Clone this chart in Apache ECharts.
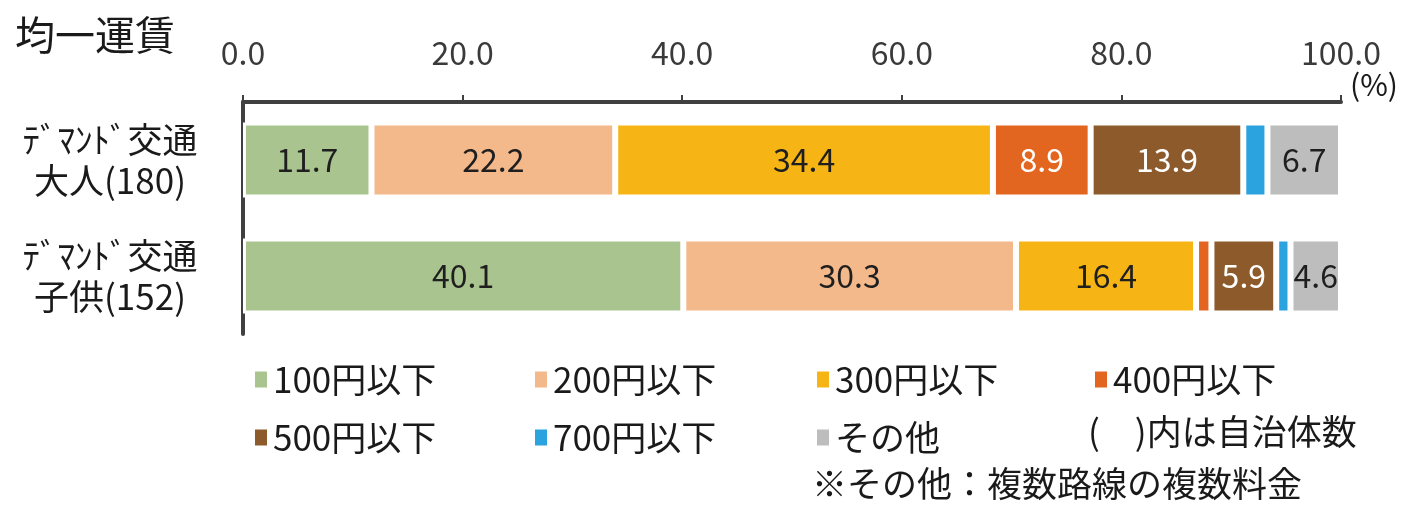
<!DOCTYPE html>
<html>
<head>
<meta charset="utf-8">
<script src="https://cdn.jsdelivr.net/npm/echarts@6/dist/echarts.min.js"></script>
<style>html,body{margin:0;padding:0;background:#fff;}#c{width:1408px;height:505px;}</style>
</head>
<body>
<div id="c"></div>
<script>
const categories = ['ﾃﾞﾏﾝﾄﾞ交通\n大人(180)', 'ﾃﾞﾏﾝﾄﾞ交通\n子供(152)'];
const seriesNames = ['100円以下', '200円以下', '300円以下', '400円以下', '500円以下', '700円以下', 'その他'];
const s100 = [11.7, 40.1];
const s200 = [22.2, 30.3];
const s300 = [34.4, 16.4];
const s400 = [8.9, 1.4];
const s500 = [13.9, 5.9];
const s700 = [2.2, 1.3];
const sOther = [6.7, 4.6];
const xTicks = [0, 20, 40, 60, 80, 100];

const values = [s100, s200, s300, s400, s500, s700, sOther];
const colors = ['#a9c48e', '#f4b98b', '#f6b514', '#e2661f', '#8d5a2b', '#2aa3df', '#bdbdbd'];
const labelColors = ['#1f1f1f', '#1f1f1f', '#1f1f1f', '#ffffff', '#ffffff', '#1f1f1f', '#1f1f1f'];
const FONT = '"Noto Sans CJK JP", "Noto Sans", sans-serif';

const chart = echarts.init(document.getElementById('c'));

const series = seriesNames.map((name, i) => ({
  name: name,
  type: 'bar',
  stack: 'total',
  barWidth: 75,
  data: values[i],
  itemStyle: { color: colors[i], borderColor: '#ffffff', borderWidth: 3 },
  label: {
    show: true,
    position: 'inside',
    fontFamily: FONT,
    fontSize: 32,
    color: labelColors[i],
    formatter: p => (p.value < 3 ? '' : p.value.toFixed(1))
  },
  emphasis: { disabled: true }
}));

const legendPos = [
  { left: 248, top: 357 }, { left: 528, top: 357 }, { left: 810, top: 357 }, { left: 1088, top: 357 },
  { left: 248, top: 415 }, { left: 528, top: 415 }, { left: 810, top: 415 }
];
const legends = seriesNames.map((name, i) => ({
  data: [name],
  left: legendPos[i].left,
  top: legendPos[i].top,
  itemWidth: 14,
  itemHeight: 18,
  itemGap: 0,
  selectedMode: false,
  icon: 'rect',
  textStyle: { fontFamily: FONT, fontSize: 35, color: '#1a1a1a' }
}));

chart.setOption({
  animation: false,
  title: {
    text: '均一運賃',
    left: 10,
    top: 10,
    textStyle: { fontFamily: FONT, fontSize: 40, fontWeight: 'normal', color: '#1a1a1a' }
  },
  legend: legends,
  grid: { left: 243, right: 67, top: 102, height: 232, containLabel: false },
  xAxis: {
    type: 'value',
    position: 'top',
    min: 0,
    max: 100,
    interval: 20,
    axisLine: { show: true, lineStyle: { color: '#404040', width: 4 } },
    axisTick: { show: true, inside: false, length: 7, lineStyle: { color: '#404040', width: 2 } },
    splitLine: { show: false },
    axisLabel: {
      margin: 33,
      fontFamily: FONT,
      fontSize: 32,
      color: '#3a3a3a',
      formatter: v => (xTicks.indexOf(v) >= 0 ? v.toFixed(1) : '')
    }
  },
  yAxis: {
    type: 'category',
    inverse: true,
    data: categories,
    axisLine: { show: true, lineStyle: { color: '#404040', width: 4 } },
    axisTick: { show: false },
    axisLabel: {
      align: 'center',
      margin: 133,
      fontFamily: FONT,
      fontSize: 35,
      lineHeight: 41,
      color: '#1a1a1a'
    }
  },
  graphic: [
    { type: 'text', left: 1350, top: 70, style: { text: '(%)', fontFamily: FONT, fontSize: 30, fill: '#1a1a1a' } },
    { type: 'text', left: 1088, top: 414, style: { text: '(\u3000)内は自治体数', fontFamily: FONT, fontSize: 35, fill: '#1a1a1a' } },
    { type: 'text', left: 812, top: 466, style: { text: '※その他：複数路線の複数料金', fontFamily: FONT, fontSize: 35, fill: '#1a1a1a' } }
  ],
  series: series
});
</script>
</body>
</html>
